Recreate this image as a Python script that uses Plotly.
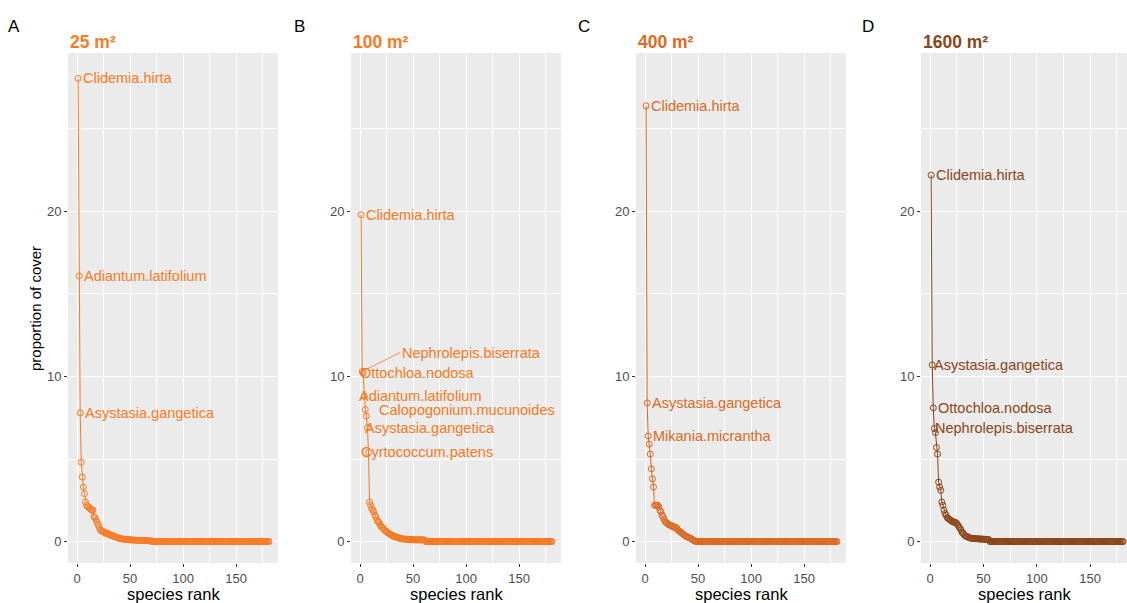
import plotly.graph_objects as go

# Rank-abundance curves of understorey cover at four plot sizes
n_species = 181

cover_25 = [28.06, 16.1, 7.8, 4.8, 3.9, 3.3, 2.9, 2.4, 2.2, 2.1, 2.1, 2.0, 1.95, 1.9, 1.9,
            1.5, 1.45, 1.3, 1.15, 1.0, 0.85, 0.7, 0.65, 0.6, 0.6, 0.55, 0.5, 0.5, 0.5, 0.45,
            0.4, 0.4, 0.35, 0.35, 0.3, 0.3, 0.25, 0.25, 0.2, 0.2, 0.18, 0.16, 0.15, 0.15, 0.14,
            0.13, 0.12, 0.12, 0.11, 0.1, 0.1, 0.1, 0.09, 0.09, 0.08, 0.08, 0.08, 0.07, 0.07,
            0.07, 0.06, 0.06, 0.06, 0.05, 0.05, 0.05, 0.05, 0.04, 0.04, 0.04]
cover_100 = [19.8, 10.3, 10.2, 8.8, 8.0, 7.6, 6.9, 5.4, 2.4, 2.2, 2.0, 1.9, 1.8, 1.6, 1.5,
             1.3, 1.2, 1.15, 1.0, 0.9, 0.85, 0.8, 0.7, 0.65, 0.6, 0.55, 0.5, 0.45, 0.4, 0.4,
             0.35, 0.3, 0.3, 0.28, 0.25, 0.24, 0.2, 0.2, 0.18, 0.16, 0.15, 0.15, 0.14, 0.14,
             0.13, 0.13, 0.12, 0.12, 0.12, 0.11, 0.11, 0.1, 0.1, 0.1, 0.1, 0.1, 0.1, 0.1, 0.1,
             0.1, 0.1]
cover_400 = [26.4, 8.4, 6.4, 5.9, 5.3, 4.4, 3.8, 3.3, 2.2, 2.2, 2.2, 2.2, 2.1, 1.9, 1.8,
             1.6, 1.5, 1.35, 1.2, 1.15, 1.1, 1.05, 1.0, 1.0, 0.95, 0.9, 0.9, 0.85, 0.85, 0.8,
             0.7, 0.65, 0.6, 0.55, 0.5, 0.45, 0.4, 0.35, 0.3, 0.28, 0.25, 0.22, 0.2, 0.15,
             0.1, 0.06, 0.03]
cover_1600 = [22.2, 10.7, 8.1, 6.85, 6.6, 5.7, 5.3, 3.6, 3.3, 3.1, 2.4, 2.2, 1.9, 1.7, 1.6,
              1.45, 1.4, 1.35, 1.3, 1.25, 1.2, 1.2, 1.15, 1.15, 1.1, 1.0, 0.9, 0.8, 0.7,
              0.55, 0.5, 0.4, 0.35, 0.3, 0.3, 0.25, 0.22, 0.2, 0.2, 0.2, 0.18, 0.18, 0.17,
              0.17, 0.16, 0.16, 0.15, 0.15, 0.15, 0.14, 0.14, 0.13, 0.13, 0.12, 0.12]

panel_letters = ["A", "B", "C", "D"]
panel_titles = ["25 m²", "100 m²", "400 m²", "1600 m²"]
panel_colors = ["#F97B25", "#F57A22", "#DA6A22", "#8B4518"]

# dominant species named on each curve: (name, rank)
labels_25 = [("Clidemia.hirta", 1), ("Adiantum.latifolium", 2), ("Asystasia.gangetica", 3)]
labels_100 = [("Clidemia.hirta", 1), ("Nephrolepis.biserrata", 2), ("Ottochloa.nodosa", 3),
              ("Adiantum.latifolium", 4), ("Calopogonium.mucunoides", 5),
              ("Asystasia.gangetica", 7), ("Cyrtococcum.patens", 8)]
labels_400 = [("Clidemia.hirta", 1), ("Asystasia.gangetica", 2), ("Mikania.micrantha", 3)]
labels_1600 = [("Clidemia.hirta", 1), ("Asystasia.gangetica", 2), ("Ottochloa.nodosa", 3),
               ("Nephrolepis.biserrata", 4)]

series = [cover_25, cover_100, cover_400, cover_1600]
label_sets = [labels_25, labels_100, labels_400, labels_1600]

# label placement tweaks (pixel offsets) where labels were nudged apart
label_shift = {
    (1, "Ottochloa.nodosa"): -5, (1, "Adiantum.latifolium"): -7,
    (1, "Calopogonium.mucunoides"): 12, (1, "Asystasia.gangetica"): -4,
    (1, "Cyrtococcum.patens"): -10,
    (3, "Asystasia.gangetica"): 0, (3, "Nephrolepis.biserrata"): -1,
}
leader_labels = {(1, "Nephrolepis.biserrata"): (38, -19)}

W, H = 1127, 603
plot_top, plot_bottom = 53, 563
x_px = [(68, 278), (351, 561), (636, 846), (921, 1127)]
x_ranges = [[-8.5, 189.5], [-8.5, 189.5], [-8.5, 189.5], [-8.5, 184.5]]

fig = go.Figure()
annotations = []
font_family = "Liberation Sans, Arial, sans-serif"

for i, vals in enumerate(series):
    ax_id = "" if i == 0 else str(i + 1)
    cover = vals + [0.0] * (n_species - len(vals))
    ranks = list(range(1, n_species + 1))
    col = panel_colors[i]
    fig.add_trace(go.Scatter(
        x=ranks, y=cover, mode="lines+markers",
        line=dict(color=col, width=1),
        marker=dict(symbol="circle-open", size=6, color=col, line=dict(width=1, color=col)),
        xaxis="x" + ax_id, yaxis="y" + ax_id, showlegend=False,
    ))
    dom = [x_px[i][0] / W, x_px[i][1] / W]
    common = dict(
        showgrid=True, gridcolor="white", gridwidth=1.1, zeroline=False,
        ticks="outside", ticklen=3, tickcolor="#333333", tickwidth=1,
        tickfont=dict(size=13, color="#4D4D4D", family=font_family),
        showline=False,
    )
    fig.update_layout(**{
        "xaxis" + ax_id: dict(domain=dom, range=x_ranges[i], tick0=0, dtick=50,
                              minor=dict(dtick=25, showgrid=True, gridcolor="white", gridwidth=0.5),
                              anchor="y" + ax_id, **common),
        "yaxis" + ax_id: dict(domain=[1 - plot_bottom / H, 1 - plot_top / H], range=[-1.3, 29.6],
                              tick0=0, dtick=10,
                              minor=dict(dtick=5, showgrid=True, gridcolor="white", gridwidth=0.5),
                              anchor="x" + ax_id, **common),
    })

    # species labels
    for name, rank in label_sets[i]:
        v = cover[rank - 1]
        key = (i, name)
        if key in leader_labels:
            dx, dy = leader_labels[key]
            annotations.append(dict(
                x=rank, y=v, xref="x" + ax_id, yref="y" + ax_id, text=name,
                showarrow=True, arrowhead=0, arrowwidth=0.8, arrowcolor=col,
                ax=dx, ay=dy, xanchor="left", yanchor="middle",
                font=dict(size=14.5, color=col, family=font_family)))
        else:
            annotations.append(dict(
                x=rank, y=v, xref="x" + ax_id, yref="y" + ax_id, text=name,
                showarrow=False, xanchor="left", yanchor="middle",
                xshift=label_shift.get(key, 3),
                font=dict(size=14.5, color=col, family=font_family)))

    # panel title, letter and x axis title
    annotations.append(dict(x=x_px[i][0] / W, y=1 - 42 / H, xref="paper", yref="paper",
                            text="<b>" + panel_titles[i] + "</b>", showarrow=False,
                            xanchor="left", yanchor="middle",
                            font=dict(size=17.5, color=col, family=font_family)))
    letter_x = [14, 299, 584, 868][i]
    annotations.append(dict(x=letter_x / W, y=1 - 26 / H, xref="paper", yref="paper",
                            text=panel_letters[i], showarrow=False,
                            xanchor="center", yanchor="middle",
                            font=dict(size=17, color="black", family=font_family)))
    annotations.append(dict(x=(x_px[i][0] + x_px[i][1]) / 2 / W, y=1 - 594 / H,
                            xref="paper", yref="paper", text="species rank", showarrow=False,
                            xanchor="center", yanchor="middle",
                            font=dict(size=16.5, color="black", family=font_family)))

annotations.append(dict(x=35 / W, y=1 - 309 / H, xref="paper", yref="paper",
                        text="proportion of cover", textangle=-90, showarrow=False,
                        xanchor="center", yanchor="middle",
                        font=dict(size=15, color="black", family=font_family)))

fig.update_layout(
    width=W, height=H, margin=dict(l=0, r=0, t=0, b=0),
    paper_bgcolor="white", plot_bgcolor="#EBEBEB",
    annotations=annotations, font=dict(family=font_family),
)

fig.write_html("out.html")
